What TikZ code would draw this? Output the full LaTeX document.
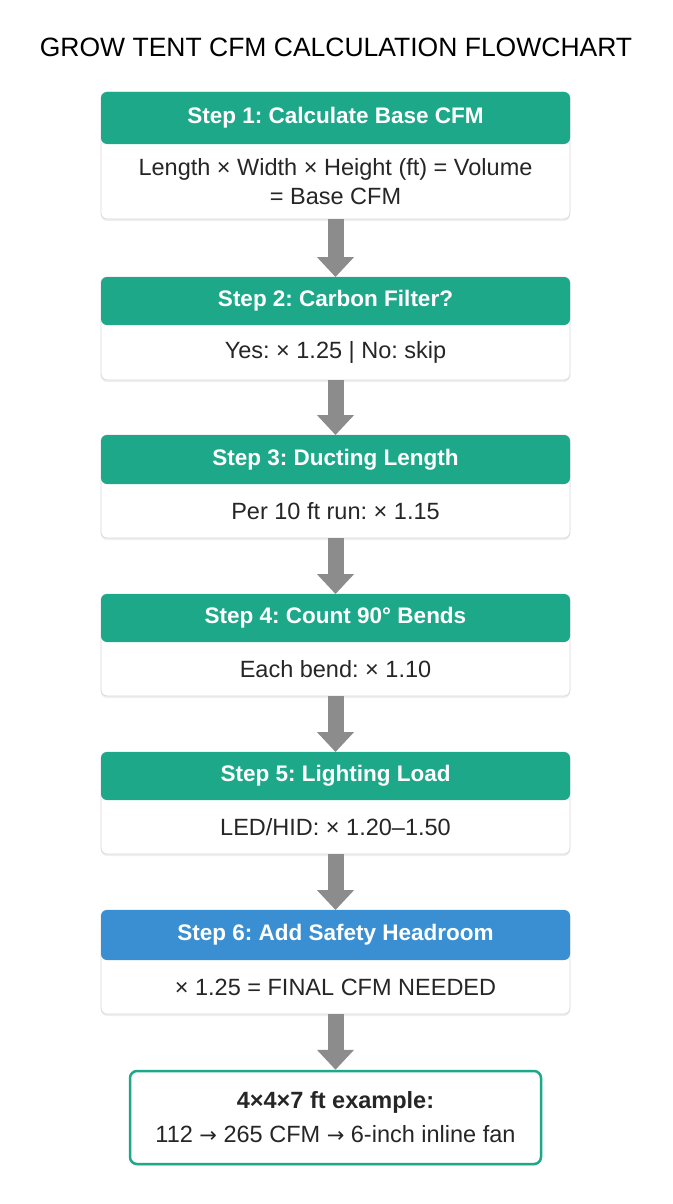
\documentclass[tikz,border=0pt]{standalone}
\usepackage{fontspec}
\setmainfont{Liberation Sans}
\newfontfamily\arrowfont{DejaVu Sans}
\newcommand{\rarr}{{\arrowfont\fontsize{21}{25}\selectfont →}}
\usetikzlibrary{positioning,arrows.meta,shadows}
\definecolor{stepgreen}{HTML}{1EA88A}
\definecolor{stepblue}{HTML}{3A8FD2}
\definecolor{flowgray}{HTML}{8C8C8C}
\tikzset{
  boxline/.style={draw=black!15, fill=white, rounded corners=6pt, line width=0.8pt,
    drop shadow={opacity=0.12, shadow xshift=0pt, shadow yshift=-2pt}},
  headtext/.style={text=white, font=\bfseries\fontsize{22.5}{26}\selectfont},
  bodytext/.style={text=black!85, align=center, font=\fontsize{23.5}{29}\selectfont},
  flowarrow/.style={draw=flowgray, line width=16pt, -{Triangle[width=36pt,length=20pt]}},
}
\frenchspacing
\begin{document}
\begin{tikzpicture}[x=1pt,y=-1pt]
	\useasboundingbox[fill=white] (0,0) rectangle (672,1204);
	\node[font=\fontsize{26.5}{30}\selectfont] (title) at (336,47) {GROW TENT CFM CALCULATION FLOWCHART};
	% Steps
	\foreach \n/\yt/\hh/\bh/\col/\head/\body in {
		1/92/52/75/stepgreen/{Step 1: Calculate Base CFM}/{Length × Width × Height (ft) = Volume\\= Base CFM},
		2/277/48/55/stepgreen/{Step 2: Carbon Filter?}/{Yes: × 1.25 | No: skip},
		3/435/49/54/stepgreen/{Step 3: Ducting Length}/{Per 10 ft run: × 1.15},
		4/594/48/54/stepgreen/{Step 4: Count 90° Bends}/{Each bend: × 1.10},
		5/752/48/54/stepgreen/{Step 5: Lighting Load}/{LED/HID: × 1.20–1.50},
		6/910/50/54/stepblue/{Step 6: Add Safety Headroom}/{× 1.25 = FINAL CFM NEEDED}} {
		\coordinate (t\n) at (335.5,\yt);
		\draw[boxline] ([xshift=-234.5pt]t\n) rectangle ++(469,{\hh+\bh});
		\fill[\col, rounded corners=6pt] ([xshift=-234.5pt]t\n) rectangle ++(469,\hh);
		\fill[\col] ([xshift=-234.5pt, yshift=-\hh pt+10pt]t\n) rectangle ++(469,-10);
		\node[headtext] (h\n) at ([yshift=-\hh pt/2]t\n) {\head};
		\node[bodytext] (b\n) at ([yshift=-\hh pt-\bh pt/2]t\n) {\body};
		\coordinate (e\n) at ([yshift=-\hh pt-\bh pt]t\n);
	}
	% Result
	\node[draw=stepgreen, line width=2.5pt, rounded corners=7pt, fill=white,
		minimum width=411pt, minimum height=93pt, align=center,
		font=\fontsize{23.5}{34}\selectfont, text=black!85,
		drop shadow={opacity=0.12, shadow xshift=0pt, shadow yshift=-2pt}]
		(result) at (335.5,1117.5) {\textbf{4×4×7 ft example:}\\112 \rarr{} 265 CFM \rarr{} 6-inch inline fan};
	% Connections
	\foreach \a/\b in {1/2,2/3,3/4,4/5,5/6} {
		\draw[flowarrow] (e\a) -- (t\b);
	}
	\draw[flowarrow] (e6) -- (result.north);
\end{tikzpicture}
\end{document}
